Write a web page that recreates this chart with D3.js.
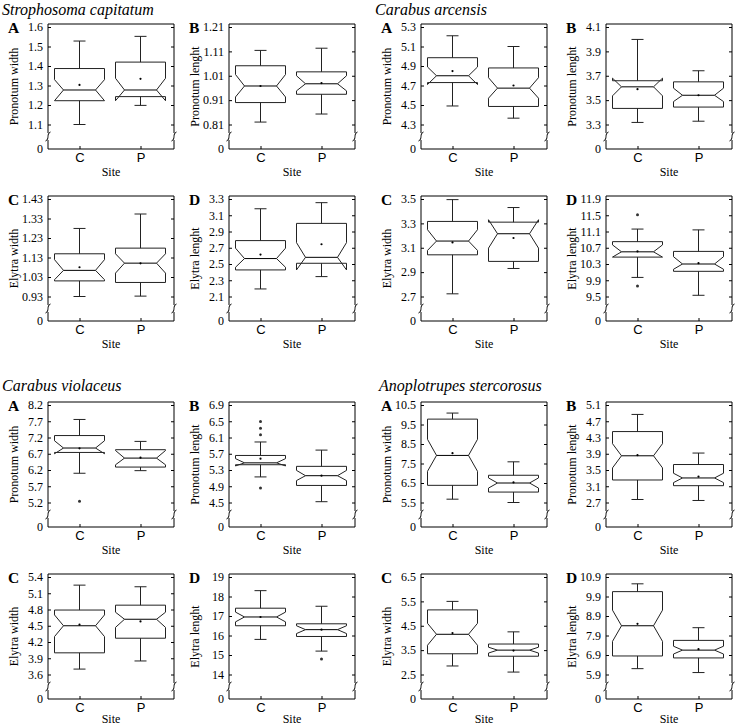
<!DOCTYPE html>
<html>
<head>
<meta charset="utf-8">
<script src="https://cdn.jsdelivr.net/npm/d3@7"></script>
<style>
  body { margin: 0; background: #fff; }
  .serif { font-family: "Liberation Serif", "Times New Roman", serif; }
  .sans { font-family: "Liberation Sans", Arial, sans-serif; }
</style>
</head>
<body>
<svg id="chart" width="736" height="728"></svg>
<script>
// notched box plots, 4 species x 4 measures, sites C and P
var species = ['Strophosoma capitatum', 'Carabus arcensis', 'Carabus violaceus', 'Anoplotrupes stercorosus'];
var letters = ['A', 'B', 'C', 'D'];
var measures = ['Pronotum width', 'Pronotum lenght', 'Elytra width', 'Elytra lenght'];
var sites = ['C', 'P'];

// y tick labels, one list per measure
var ticksStroph = [[1.1, 1.2, 1.3, 1.4, 1.5, 1.6], [0.81, 0.91, 1.01, 1.11, 1.21], [0.93, 1.03, 1.13, 1.23, 1.33, 1.43], [2.1, 2.3, 2.5, 2.7, 2.9, 3.1, 3.3]];
var ticksArcen = [[4.3, 4.5, 4.7, 4.9, 5.1, 5.3], [3.3, 3.5, 3.7, 3.9, 4.1], [2.7, 2.9, 3.1, 3.3, 3.5], [9.5, 9.9, 10.3, 10.7, 11.1, 11.5, 11.9]];
var ticksViol = [[5.2, 5.7, 6.2, 6.7, 7.2, 7.7, 8.2], [4.5, 4.9, 5.3, 5.7, 6.1, 6.5, 6.9], [3.6, 3.9, 4.2, 4.5, 4.8, 5.1, 5.4], [14, 15, 16, 17, 18, 19]];
var ticksAnop = [[5.5, 6.5, 7.5, 8.5, 9.5, 10.5], [2.7, 3.1, 3.5, 3.9, 4.3, 4.7, 5.1], [2.5, 3.5, 4.5, 5.5, 6.5], [5.9, 6.9, 7.9, 8.9, 9.9, 10.9]];

// box stats per measure, [C, P], each: [whiskerLo, q1, notchLo, median, notchHi, q3, whiskerHi, mean]
var statsStroph = [
  [[1.10, 1.222, 1.222, 1.277, 1.33, 1.387, 1.528, 1.303], [1.198, 1.243, 1.222, 1.277, 1.337, 1.42, 1.552, 1.334]],
  [[0.82, 0.90, 0.923, 0.968, 1.015, 1.051, 1.114, 0.968], [0.853, 0.934, 0.948, 0.977, 1.01, 1.026, 1.123, 0.98]],
  [[0.93, 1.01, 1.016, 1.064, 1.119, 1.149, 1.279, 1.08], [0.932, 1.002, 1.05, 1.101, 1.149, 1.178, 1.353, 1.10]],
  [[2.193, 2.427, 2.46, 2.567, 2.695, 2.788, 3.18, 2.616], [2.345, 2.509, 2.427, 2.582, 2.763, 3.0, 3.255, 2.743]]
];
var statsArcen = [
  [[4.49, 4.73, 4.71, 4.80, 4.89, 4.985, 5.21, 4.848], [4.365, 4.485, 4.57, 4.673, 4.78, 4.88, 5.10, 4.70]],
  [[3.317, 3.432, 3.535, 3.609, 3.68, 3.659, 3.998, 3.59], [3.327, 3.443, 3.488, 3.54, 3.598, 3.65, 3.741, 3.54]],
  [[2.722, 3.042, 3.078, 3.155, 3.248, 3.316, 3.495, 3.144], [2.93, 2.988, 3.097, 3.215, 3.33, 3.31, 3.43, 3.18]],
  [[9.97, 10.47, 10.47, 10.6, 10.77, 10.85, 11.16, 10.61], [9.53, 10.12, 10.17, 10.3, 10.48, 10.61, 11.14, 10.32]]
];
var statsViol = [
  [[6.10, 6.74, 6.70, 6.876, 7.10, 7.26, 7.755, 6.866], [6.18, 6.29, 6.36, 6.566, 6.80, 6.825, 7.08, 6.58]],
  [[5.13, 5.43, 5.40, 5.476, 5.58, 5.658, 5.99, 5.58], [4.52, 4.92, 5.04, 5.16, 5.29, 5.39, 5.79, 5.16]],
  [[3.7, 4.0, 4.3, 4.5, 4.7, 4.79, 5.25, 4.52], [3.85, 4.27, 4.47, 4.62, 4.75, 4.88, 5.22, 4.58]],
  [[15.8, 16.5, 16.7, 16.95, 17.2, 17.4, 18.3, 16.95], [15.2, 15.95, 16.1, 16.3, 16.5, 16.6, 17.5, 16.3]]
];
var statsAnop = [
  [[5.67, 6.38, 7.10, 7.914, 8.74, 9.776, 10.086, 8.03], [5.5, 6.035, 6.24, 6.5, 6.76, 6.897, 7.586, 6.53]],
  [[2.774, 3.254, 3.552, 3.85, 4.148, 4.446, 4.868, 3.866], [2.75, 3.114, 3.19, 3.304, 3.42, 3.635, 3.917, 3.337]],
  [[2.85, 3.35, 3.7, 4.15, 4.6, 5.15, 5.5, 4.2], [2.6, 3.25, 3.38, 3.5, 3.62, 3.75, 4.25, 3.48]],
  [[6.2, 6.85, 7.6, 8.4, 9.2, 10.15, 10.55, 8.5], [6.0, 6.75, 6.95, 7.15, 7.35, 7.65, 8.3, 7.2]]
];

// outliers per measure, [C, P]
var outStroph = [[[], []], [[], []], [[], []], [[], []]];
var outArcen = [[[], []], [[], []], [[], []], [[11.51, 9.76], []]];
var outViol = [[[5.24], []], [[6.494, 6.33, 6.17, 4.855], []], [[], []], [[], [14.8]]];
var outAnop = [[[], []], [[], []], [[], []], [[], []]];

var tickSets = [ticksStroph, ticksArcen, ticksViol, ticksAnop];
var statSets = [statsStroph, statsArcen, statsViol, statsAnop];
var outSets = [outStroph, outArcen, outViol, outAnop];

// layout
var svg = d3.select('#chart');
var colL = [48, 229, 421, 606], W = 126, H = 125;
var rowT = [24, 196, 402, 574];
var titleX = [2, 375, 2, 379];
var bw = 50, notchIn = 0.18 * bw, capW = 12;
var ink = '#222';

species.forEach(function(name, s) {
  var T0 = rowT[Math.floor(s / 2) * 2];
  svg.append('text').attr('class', 'serif').attr('x', titleX[s]).attr('y', Math.max(T0 - 11, 15))
    .attr('font-size', 16).attr('font-style', 'italic').text(name);
  measures.forEach(function(label, m) {
    drawPanel(s, m, label);
  });
});

function drawPanel(s, m, label) {
  var L = colL[(s % 2) * 2 + m % 2];
  var T = rowT[Math.floor(s / 2) * 2 + Math.floor(m / 2)];
  var B = T + H;
  var ticks = tickSets[s][m];
  var stats = statSets[s][m];
  var outs = outSets[s][m];
  var g = svg.append('g');

  var y = d3.scaleLinear().domain([ticks[0], ticks[ticks.length - 1]]).range([B - 24.5, T + 3]);
  var x = d3.scalePoint().domain(sites).range([L + 1, L + W - 3]).padding(0.5);

  // axes (ticks point inward)
  var ya = g.append('g').attr('transform', 'translate(' + L + ',0)')
    .call(d3.axisLeft(y).tickValues(ticks).tickSize(-3).tickPadding(5).tickFormat(function(d) { return String(d); }));
  ya.append('text').attr('x', -5).attr('y', B).attr('dy', '0.32em').attr('fill', '#000').text('0');
  ya.selectAll('text').attr('class', 'serif').attr('font-size', 12).attr('fill', '#000').attr('text-anchor', 'end');
  g.append('g').attr('transform', 'translate(' + (L + W) + ',0)')
    .call(d3.axisRight(y).tickValues(ticks).tickSize(-3).tickFormat(''));
  var xa = g.append('g').attr('transform', 'translate(0,' + B + ')')
    .call(d3.axisBottom(x).tickSize(-3).tickPadding(4));
  xa.selectAll('text').attr('class', 'sans').attr('font-size', 13).attr('fill', '#000');
  g.selectAll('.domain').remove();
  g.selectAll('.tick line').attr('stroke', '#000');

  // frame with axis breaks
  var bt = B - 16, bb = B - 9;
  var frame = g.append('g').attr('fill', 'none').attr('stroke', '#000').attr('stroke-width', 1);
  frame.append('path').attr('d', 'M' + L + ',' + bt + 'V' + T + 'H' + (L + W) + 'V' + bt);
  frame.append('path').attr('d', 'M' + L + ',' + bb + 'V' + B + 'H' + (L + W) + 'V' + bb);
  [L, L + W].forEach(function(bx) {
    frame.append('path').attr('d', 'M' + (bx - 2.5) + ',' + (bb + 1) + 'C' + (bx + 2) + ',' + (bb - 1) + ' ' + (bx - 2) + ',' + (bt + 1) + ' ' + (bx + 2.5) + ',' + (bt - 1));
  });

  // labels
  g.append('text').attr('class', 'serif').attr('transform', 'translate(' + (L - 30) + ',' + (T + H / 2) + ') rotate(-90)')
    .attr('text-anchor', 'middle').attr('font-size', 12).text(label);
  g.append('text').attr('class', 'serif').attr('x', L + W / 2).attr('y', Math.min(B + 27, 723))
    .attr('text-anchor', 'middle').attr('font-size', 12).text('Site');
  g.append('text').attr('class', 'serif').attr('x', L - 40).attr('y', T + 9)
    .attr('font-size', 15.5).attr('font-weight', 'bold').text(letters[m]);

  // boxes
  sites.forEach(function(site, i) {
    var d = stats[i], cx = x(site);
    var x0 = cx - bw / 2, x1 = cx + bw / 2;
    var pts = [[x0, d[5]], [x0, d[4]], [x0 + notchIn, d[3]], [x0, d[2]], [x0, d[1]],
               [x1, d[1]], [x1, d[2]], [x1 - notchIn, d[3]], [x1, d[4]], [x1, d[5]]];
    var bg = g.append('g').attr('stroke', ink).attr('stroke-width', 1).attr('fill', 'none');
    bg.append('path').attr('d', d3.line().x(function(p) { return p[0]; }).y(function(p) { return y(p[1]); })(pts) + 'Z');
    bg.append('line').attr('x1', x0 + notchIn).attr('x2', x1 - notchIn).attr('y1', y(d[3])).attr('y2', y(d[3])).attr('stroke', '#000');
    // whiskers
    bg.append('line').attr('x1', cx).attr('x2', cx).attr('y1', y(d[5])).attr('y2', y(d[6]));
    bg.append('line').attr('x1', cx).attr('x2', cx).attr('y1', y(d[1])).attr('y2', y(d[0]));
    bg.append('line').attr('x1', cx - capW / 2).attr('x2', cx + capW / 2).attr('y1', y(d[6])).attr('y2', y(d[6]));
    bg.append('line').attr('x1', cx - capW / 2).attr('x2', cx + capW / 2).attr('y1', y(d[0])).attr('y2', y(d[0]));
    // mean
    g.append('circle').attr('cx', cx).attr('cy', y(d[7])).attr('r', 1.1).attr('fill', '#000');
    // outliers
    g.selectAll(null).data(outs[i]).enter().append('circle')
      .attr('cx', cx).attr('cy', function(v) { return y(v); }).attr('r', 1.5).attr('fill', '#333');
  });
}
</script>
</body>
</html>
